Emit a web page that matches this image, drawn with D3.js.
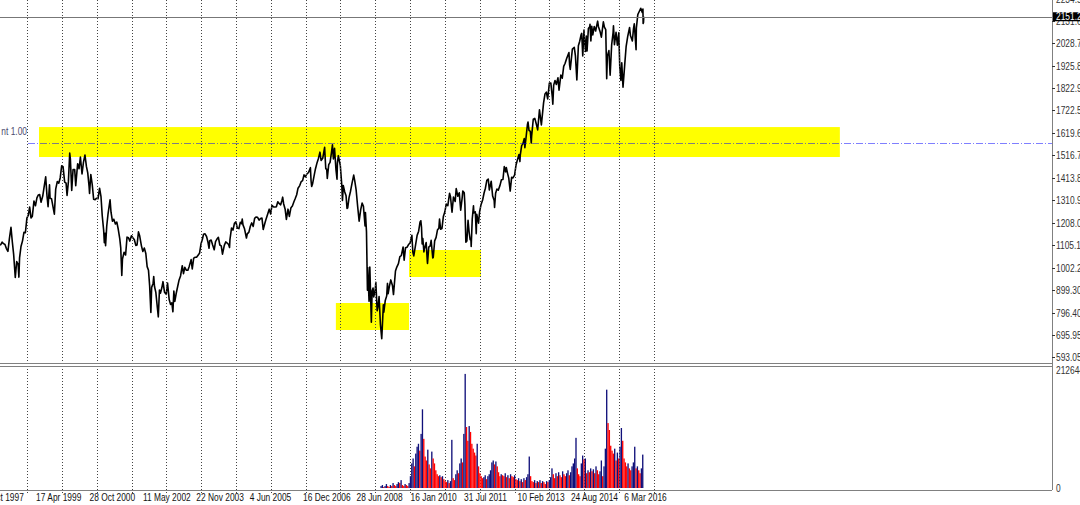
<!DOCTYPE html>
<html><head><meta charset="utf-8">
<script src="https://cdn.jsdelivr.net/npm/d3@7"></script>
<style>html,body{margin:0;padding:0;background:#fff;overflow:hidden}svg{display:block}</style>
</head><body>
<svg id="c" width="1080" height="505"></svg>
<script>
// ---------- DATA ----------
const priceSeries = [
["1998-03-24",1105],["1998-04-01",1108],["1998-04-15",1119],["1998-04-30",1112],["1998-05-15",1108],["1998-05-29",1091],["1998-06-15",1077],["1998-06-30",1134],["1998-07-17",1187],["1998-07-31",1121],["1998-08-14",1063],["1998-08-31",957],["1998-09-15",1030],["1998-09-30",1017],["1998-10-08",959],["1998-10-15",1047],["1998-10-30",1099],["1998-11-15",1125],["1998-11-30",1164],["1998-12-15",1162],["1998-12-31",1229],
["1999-01-15",1243],["1999-01-29",1280],["1999-02-12",1230],["1999-02-26",1238],["1999-03-15",1307],["1999-03-31",1286],["1999-04-15",1322],["1999-04-30",1335],["1999-05-14",1337],["1999-05-28",1302],["1999-06-15",1330],["1999-06-30",1373],["1999-07-16",1418],["1999-07-30",1329],["1999-08-10",1281],["1999-08-25",1382],["1999-08-31",1320],["1999-09-15",1318],["1999-09-30",1283],["1999-10-15",1247],["1999-10-29",1362],["1999-11-15",1397],["1999-11-30",1389],["1999-12-15",1413],["1999-12-31",1469],
["2000-01-14",1465],["2000-01-31",1394],["2000-02-15",1389],["2000-02-25",1333],["2000-03-10",1395],["2000-03-24",1527],["2000-03-31",1499],["2000-04-14",1356],["2000-04-28",1452],["2000-05-15",1452],["2000-05-26",1378],["2000-06-15",1478],["2000-06-30",1455],["2000-07-14",1509],["2000-07-31",1431],["2000-08-15",1484],["2000-08-31",1518],["2000-09-15",1466],["2000-09-29",1436],["2000-10-13",1374],["2000-10-18",1342],["2000-10-31",1429],["2000-11-15",1383],["2000-11-30",1315],["2000-12-15",1313],["2000-12-29",1320],
["2001-01-15",1318],["2001-01-31",1366],["2001-02-15",1327],["2001-02-28",1240],["2001-03-15",1173],["2001-03-22",1117],["2001-03-30",1160],["2001-04-04",1103],["2001-04-16",1192],["2001-04-30",1249],["2001-05-21",1313],["2001-05-31",1256],["2001-06-15",1215],["2001-06-29",1224],["2001-07-16",1202],["2001-07-31",1211],["2001-08-15",1178],["2001-08-31",1134],["2001-09-10",1093],["2001-09-21",966],["2001-09-28",1041],["2001-10-15",1073],["2001-10-31",1060],["2001-11-15",1142],["2001-11-30",1139],["2001-12-14",1124],["2001-12-31",1148],
["2002-01-15",1139],["2002-01-31",1130],["2002-02-15",1104],["2002-02-28",1106],["2002-03-15",1166],["2002-03-28",1147],["2002-04-15",1102],["2002-04-30",1076],["2002-05-15",1092],["2002-05-31",1067],["2002-06-14",1007],["2002-06-28",990],["2002-07-10",920],["2002-07-23",797],["2002-07-31",912],["2002-08-15",930],["2002-08-22",962],["2002-08-30",916],["2002-09-13",889],["2002-09-30",815],["2002-10-09",777],["2002-10-21",900],["2002-10-31",885],["2002-11-15",910],["2002-11-27",938],["2002-12-13",890],["2002-12-31",880],
["2003-01-14",932],["2003-01-31",856],["2003-02-14",834],["2003-02-28",841],["2003-03-11",800],["2003-03-21",895],["2003-03-31",848],["2003-04-15",885],["2003-04-30",916],["2003-05-15",946],["2003-05-30",964],["2003-06-17",1011],["2003-06-30",975],["2003-07-14",1004],["2003-07-31",990],["2003-08-15",990],["2003-08-29",1008],["2003-09-18",1039],["2003-09-30",996],["2003-10-15",1046],["2003-10-31",1050],["2003-11-14",1050],["2003-11-28",1058],["2003-12-15",1068],["2003-12-31",1112],
["2004-01-15",1133],["2004-01-26",1155],["2004-02-11",1157],["2004-02-27",1145],["2004-03-12",1120],["2004-03-24",1091],["2004-03-31",1126],["2004-04-15",1129],["2004-04-30",1107],["2004-05-17",1084],["2004-05-31",1121],["2004-06-15",1133],["2004-06-30",1141],["2004-07-15",1106],["2004-07-30",1102],["2004-08-12",1064],["2004-08-31",1104],["2004-09-15",1120],["2004-09-30",1115],["2004-10-15",1108],["2004-10-25",1095],["2004-10-29",1130],["2004-11-15",1184],["2004-11-30",1174],["2004-12-15",1205],["2004-12-31",1212],
["2005-01-14",1184],["2005-01-31",1181],["2005-02-15",1210],["2005-02-28",1204],["2005-03-07",1225],["2005-03-15",1198],["2005-03-31",1180],["2005-04-20",1138],["2005-04-29",1157],["2005-05-16",1165],["2005-05-31",1192],["2005-06-15",1207],["2005-06-30",1191],["2005-07-15",1228],["2005-07-29",1234],["2005-08-15",1233],["2005-08-31",1220],["2005-09-15",1227],["2005-09-30",1229],["2005-10-13",1177],["2005-10-31",1207],["2005-11-15",1229],["2005-11-30",1249],["2005-12-15",1270],["2005-12-30",1248],
["2006-01-13",1287],["2006-01-31",1280],["2006-02-15",1280],["2006-02-28",1281],["2006-03-15",1304],["2006-03-31",1295],["2006-04-14",1290],["2006-04-28",1311],["2006-05-05",1325],["2006-05-15",1295],["2006-05-31",1270],["2006-06-13",1223],["2006-06-30",1270],["2006-07-14",1237],["2006-07-31",1277],["2006-08-15",1285],["2006-08-31",1304],["2006-09-15",1320],["2006-09-29",1336],["2006-10-13",1366],["2006-10-31",1378],["2006-11-15",1396],["2006-11-30",1401],["2006-12-15",1427],["2006-12-29",1418],
["2007-01-12",1430],["2007-01-31",1438],["2007-02-20",1460],["2007-02-27",1399],["2007-03-05",1374],["2007-03-15",1387],["2007-03-30",1421],["2007-04-13",1453],["2007-04-30",1482],["2007-05-15",1502],["2007-05-31",1531],["2007-06-12",1493],["2007-06-29",1503],["2007-07-19",1553],["2007-07-31",1455],["2007-08-10",1453],["2007-08-16",1411],["2007-08-31",1474],["2007-09-14",1484],["2007-09-28",1527],["2007-10-09",1565],["2007-10-19",1500],["2007-10-31",1549],["2007-11-15",1451],["2007-11-26",1407],["2007-11-30",1481],["2007-12-10",1515],["2007-12-31",1468],
["2008-01-15",1380],["2008-01-22",1310],["2008-01-31",1378],["2008-02-15",1349],["2008-02-29",1331],["2008-03-10",1273],["2008-03-17",1276],["2008-03-31",1323],["2008-04-15",1351],["2008-04-30",1386],["2008-05-19",1426],["2008-05-30",1400],["2008-06-13",1360],["2008-06-30",1280],["2008-07-15",1215],["2008-07-31",1267],["2008-08-15",1298],["2008-08-29",1283],["2008-09-15",1193],["2008-09-19",1255],["2008-09-30",1166],["2008-10-10",899],["2008-10-13",1003],["2008-10-27",848],["2008-11-04",1005],["2008-11-20",752],["2008-11-28",896],["2008-12-08",909],["2008-12-15",868],["2008-12-31",903],
["2009-01-06",935],["2009-01-20",805],["2009-01-30",826],["2009-02-09",870],["2009-02-23",743],["2009-03-09",677],["2009-03-26",832],["2009-03-31",798],["2009-04-15",852],["2009-04-30",873],["2009-05-08",930],["2009-05-15",883],["2009-05-29",919],["2009-06-12",946],["2009-06-30",919],["2009-07-10",879],["2009-07-31",987],["2009-08-14",1005],["2009-08-31",1021],["2009-09-15",1053],["2009-09-30",1057],["2009-10-19",1097],["2009-10-30",1036],["2009-11-13",1093],["2009-11-30",1096],["2009-12-15",1108],["2009-12-31",1115],
["2010-01-19",1150],["2010-01-29",1074],["2010-02-08",1056],["2010-02-26",1104],["2010-03-15",1150],["2010-03-31",1169],["2010-04-15",1212],["2010-04-23",1217],["2010-04-30",1187],["2010-05-07",1111],["2010-05-14",1136],["2010-05-25",1074],["2010-05-31",1089],["2010-06-18",1117],["2010-06-30",1031],["2010-07-02",1022],["2010-07-15",1096],["2010-07-30",1102],["2010-08-09",1127],["2010-08-26",1047],["2010-08-31",1049],["2010-09-15",1125],["2010-09-30",1141],["2010-10-15",1176],["2010-10-29",1183],["2010-11-05",1225],["2010-11-16",1178],["2010-11-30",1181],["2010-12-15",1236],["2010-12-31",1258],
["2011-01-14",1293],["2011-01-31",1286],["2011-02-18",1343],["2011-02-28",1327],["2011-03-16",1256],["2011-03-31",1326],["2011-04-18",1305],["2011-04-29",1364],["2011-05-16",1329],["2011-05-31",1345],["2011-06-15",1265],["2011-06-30",1321],["2011-07-07",1353],["2011-07-22",1345],["2011-07-29",1292],["2011-08-08",1119],["2011-08-19",1124],["2011-08-31",1219],["2011-09-12",1162],["2011-09-22",1130],["2011-09-30",1131],["2011-10-03",1099],["2011-10-14",1225],["2011-10-27",1285],["2011-10-31",1253],["2011-11-15",1258],["2011-11-25",1158],["2011-11-30",1247],["2011-12-19",1206],["2011-12-30",1258],
["2012-01-13",1289],["2012-01-31",1312],["2012-02-15",1344],["2012-02-29",1366],["2012-03-15",1402],["2012-03-30",1408],["2012-04-10",1358],["2012-04-30",1398],["2012-05-15",1330],["2012-05-31",1310],["2012-06-04",1278],["2012-06-15",1343],["2012-06-29",1362],["2012-07-13",1357],["2012-07-31",1379],["2012-08-15",1405],["2012-08-31",1406],["2012-09-14",1465],["2012-09-28",1441],["2012-10-05",1461],["2012-10-19",1433],["2012-10-31",1412],["2012-11-15",1353],["2012-11-30",1416],["2012-12-14",1413],["2012-12-31",1426],
["2013-01-15",1472],["2013-01-31",1498],["2013-02-15",1520],["2013-02-25",1488],["2013-02-28",1515],["2013-03-15",1561],["2013-03-28",1569],["2013-04-11",1593],["2013-04-18",1552],["2013-04-30",1597],["2013-05-15",1658],["2013-05-21",1669],["2013-05-31",1631],["2013-06-14",1626],["2013-06-24",1573],["2013-06-28",1606],["2013-07-15",1682],["2013-07-31",1686],["2013-08-15",1661],["2013-08-30",1633],["2013-09-18",1725],["2013-09-30",1682],["2013-10-08",1656],["2013-10-31",1757],["2013-11-15",1798],["2013-11-29",1806],["2013-12-13",1775],["2013-12-31",1848],
["2014-01-15",1848],["2014-01-31",1783],["2014-02-05",1751],["2014-02-14",1838],["2014-02-28",1859],["2014-03-14",1841],["2014-03-31",1872],["2014-04-11",1815],["2014-04-30",1884],["2014-05-15",1870],["2014-05-30",1924],["2014-06-13",1937],["2014-06-30",1960],["2014-07-24",1987],["2014-07-31",1931],["2014-08-07",1910],["2014-08-29",2003],["2014-09-18",2011],["2014-09-30",1972],["2014-10-15",1862],["2014-10-31",2018],["2014-11-14",2039],["2014-11-28",2068],["2014-12-05",2075],["2014-12-16",1972],["2014-12-29",2090],["2014-12-31",2059],
["2015-01-15",1992],["2015-01-22",2063],["2015-01-30",1995],["2015-02-13",2097],["2015-02-27",2105],["2015-03-02",2117],["2015-03-11",2040],["2015-03-20",2108],["2015-03-31",2068],["2015-04-15",2106],["2015-04-30",2086],["2015-05-21",2131],["2015-05-29",2107],["2015-06-15",2084],["2015-06-29",2058],["2015-07-20",2128],["2015-07-31",2104],["2015-08-14",2092],["2015-08-24",1867],["2015-08-31",1972],["2015-09-16",1996],["2015-09-29",1884],["2015-10-15",2023],["2015-10-30",2079],["2015-11-03",2110],["2015-11-13",2023],["2015-11-30",2080],["2015-12-14",2021],["2015-12-29",2078],["2015-12-31",2044],
["2016-01-08",1922],["2016-01-20",1859],["2016-01-29",1940],["2016-02-11",1829],["2016-02-29",1932],["2016-03-15",2016],["2016-03-31",2060],["2016-04-20",2102],["2016-04-29",2065],["2016-05-19",2040],["2016-05-31",2097],["2016-06-08",2119],["2016-06-27",2000],["2016-06-30",2099],["2016-07-15",2161],["2016-07-29",2174],["2016-08-15",2190],["2016-08-31",2171],["2016-09-07",2186],["2016-09-09",2120],["2016-09-13",2125],["2016-09-16",2151.2]
];
const currentPrice = 2151.2;
const priceAxisTicks = [593.05, 695.95, 796.40, 899.30, 1002.2, 1105.1, 1208.0, 1310.9, 1413.8, 1516.7, 1619.6, 1722.5, 1822.9, 1925.8, 2028.7, 2131.6, 2234.5];
const priceAxisLabels = ["593.05","695.95","796.40","899.30","1002.2","1105.1","1208.0","1310.9","1413.8","1516.7","1619.6","1722.5","1822.9","1925.8","2028.7","2131.6","2234.5"];
const dateLabels = ["1997-10-05","1999-04-17","2000-10-28","2002-05-11","2003-11-22","2005-06-04","2006-12-16","2008-06-28","2010-01-16","2011-07-31","2013-02-10","2014-08-24","2016-03-06"];
const dateLabelTexts = ["5 Oct 1997","17 Apr 1999","28 Oct 2000","11 May 2002","22 Nov 2003","4 Jun 2005","16 Dec 2006","28 Jun 2008","16 Jan 2010","31 Jul 2011","10 Feb 2013","24 Aug 2014","6 Mar 2016"];
const gridYears = [1999,2000,2001,2002,2003,2004,2005,2006,2007,2008,2009,2010,2011,2012,2013,2014,2015,2016,2017];
const zones = [
  {from:"1999-05-07", to:"2022-05-04", low:1508.9, high:1646},
  {from:"2007-11-14", to:"2009-12-20", low:716.7, high:840.3},
  {from:"2009-12-20", to:"2012-01-14", low:959.4, high:1083}
];
const levelPrice = 1573;
const levelLabel = "nt 1.00";
const volumeMax = 212644;
const volumeStart = "2009-03-02";
const volumeStepDays = 14;
const volumeValues = [
3500,5300,1800,3500,7100,3500,1800,5300,3500,8900,5300,3500,7100,10600,8900,14200,5300,3500,7100,5300,3500,8900,
21300,44300,53200,39000,62000,74400,79700,67300,97500,141800,
88600,56700,49600,69100,42500,35400,65600,53200,44300,31900,
24800,21300,23000,19500,21300,15900,12400,10600,14200,8900,12400,
86800,17700,14200,24800,31900,26600,44300,53200,46100,97500,
205600,109900,85100,111600,101000,79700,70900,63800,58500,79700,
39000,26600,21300,17700,19500,23000,15900,21300,24800,31900,
46100,49600,42500,47800,39000,28400,21300,24800,23000,21300,
26600,19500,23000,17700,24800,21300,19500,23000,15900,14200,
17700,12400,15900,10600,17700,14200,19500,24800,56700,21300,
12400,10600,14200,8900,12400,10600,14200,8900,12400,10600,
7100,12400,10600,14200,19500,35400,24800,17700,26600,21300,
28400,23000,19500,30100,24800,21300,26600,31900,23000,28400,
39000,44300,53200,90400,35400,24800,21300,44300,58500,51400,
53200,26600,31900,28400,35400,30100,33700,26600,39000,31900,
24800,30100,49600,21300,39000,70900,177200,117000,104500,76200,
67300,62000,70900,49600,63800,53200,74400,108100,85100,53200,
46100,39000,44300,35400,31900,39000,46100,74400,35400,39000,
31900,26600,35400,60200
];

// ---------- LAYOUT ----------
const W = 1080, H = 505;
const axisX = 1052;
const pricePane = {top:0, bottom:363};
const volPane = {top:366, bottom:490};
const parse = d3.utcParse("%Y-%m-%d");

const x = d3.scaleUtc().domain([new Date(Date.UTC(1999,0,1)), new Date(Date.UTC(2017,0,1))]).range([27, 654]);
const y = d3.scaleLinear().domain([565.6, 2227.9]).range([pricePane.bottom, pricePane.top]);
const yv = d3.scaleLinear().domain([0, volumeMax]).range([488, 370]);

const svg = d3.select("#c");
svg.append("rect").attr("width",W).attr("height",H).attr("fill","#fff");

const font = "'Liberation Sans',Arial,sans-serif";
const SX = 0.84;
function label(g, tx, ty, str, fill, anchor){
  return g.append("text").attr("transform",`translate(${tx},${ty}) scale(${SX},1)`)
    .attr("dy","0.35em").attr("text-anchor",anchor||"start")
    .attr("font-family",font).attr("font-size",10).attr("fill",fill).text(str);
}

svg.append("clipPath").attr("id","pc").append("rect").attr("x",0).attr("y",0).attr("width",axisX).attr("height",pricePane.bottom);
svg.append("clipPath").attr("id","vc").append("rect").attr("x",0).attr("y",volPane.top).attr("width",axisX).attr("height",volPane.bottom-volPane.top);

// yellow zones
const pg = svg.append("g").attr("clip-path","url(#pc)");
pg.selectAll("rect.zone").data(zones).join("rect").attr("class","zone")
  .attr("x", d=>x(parse(d.from))).attr("width", d=>x(parse(d.to))-x(parse(d.from)))
  .attr("y", d=>y(d.high)).attr("height", d=>y(d.low)-y(d.high))
  .attr("fill","#ffff00");

// vertical grid
svg.append("g").selectAll("line").data(gridYears).join("line")
  .attr("x1", d=>Math.round(x(new Date(Date.UTC(d,0,1))))+0.5)
  .attr("x2", d=>Math.round(x(new Date(Date.UTC(d,0,1))))+0.5)
  .attr("y1", 0).attr("y2", volPane.bottom+4)
  .attr("stroke","#444").attr("stroke-width",1).attr("stroke-dasharray","1,2");

// current price line
svg.append("line").attr("x1",0).attr("x2",axisX).attr("y1",Math.round(y(currentPrice))+0.5).attr("y2",Math.round(y(currentPrice))+0.5)
  .attr("stroke","#777").attr("stroke-width",1);

// level dash-dot line
svg.append("line").attr("x1",28).attr("x2",axisX).attr("y1",Math.round(y(levelPrice))+0.5).attr("y2",Math.round(y(levelPrice))+0.5)
  .attr("stroke","#0000ff").attr("stroke-opacity",0.5).attr("stroke-width",1).attr("stroke-dasharray","7,2,1,2");
label(svg, 27, y(levelPrice)-12, levelLabel, "#4a4a70", "end");

// price line
const line = d3.line().x(d=>x(parse(d[0]))).y(d=>y(d[1]));
pg.append("path").datum(priceSeries).attr("d",line).attr("fill","none").attr("stroke","#000").attr("stroke-width",1.6).attr("stroke-linejoin","round");

// volume bars
const vg = svg.append("g").attr("clip-path","url(#vc)");
const v0 = parse(volumeStart);
const vols = volumeValues.map((v,i)=>({d:d3.utcDay.offset(v0, i*volumeStepDays), v, up: i===0 || v>=volumeValues[i-1]}));
const bw = x(d3.utcDay.offset(v0, volumeStepDays)) - x(v0);
vg.selectAll("rect").data(vols).join("rect")
  .attr("x", d=>x(d.d)-bw/2).attr("width", bw)
  .attr("y", d=>yv(d.v)).attr("height", d=>yv(0)-yv(d.v))
  .attr("fill", d=>d.up ? "#10107a" : "#ff0000");

// pane borders
const bc = "#808080";
svg.append("line").attr("x1",0).attr("x2",axisX).attr("y1",pricePane.bottom+0.5).attr("y2",pricePane.bottom+0.5).attr("stroke",bc);
svg.append("line").attr("x1",0).attr("x2",axisX).attr("y1",volPane.top+0.5).attr("y2",volPane.top+0.5).attr("stroke",bc);
svg.append("line").attr("x1",0).attr("x2",axisX).attr("y1",volPane.bottom+0.5).attr("y2",volPane.bottom+0.5).attr("stroke",bc);
svg.append("line").attr("x1",axisX+0.5).attr("x2",axisX+0.5).attr("y1",0).attr("y2",volPane.bottom).attr("stroke",bc);

// price axis
const ay = svg.append("g");
priceAxisTicks.forEach((t,i)=>{
  const yy = Math.round(y(t))+0.5;
  ay.append("line").attr("x1",axisX).attr("x2",axisX+3).attr("y1",yy).attr("y2",yy).attr("stroke","#333");
  label(ay, axisX+4, yy, priceAxisLabels[i], "#333");
});
// current price tag
const cy = y(currentPrice);
svg.append("rect").attr("x",axisX+1).attr("y",cy-4.5).attr("width",W-axisX).attr("height",9).attr("fill","#000");
label(svg, axisX+4, cy, String(currentPrice), "#fff");

// volume axis
label(svg, axisX+4, yv(volumeMax), String(volumeMax), "#333");
label(svg, axisX+4, yv(0), "0", "#333");

// date labels
const ax = svg.append("g");
dateLabels.forEach((d,i)=>{ label(ax, x(parse(d))-1, 497, dateLabelTexts[i], "#111"); });
</script>
</body></html>
